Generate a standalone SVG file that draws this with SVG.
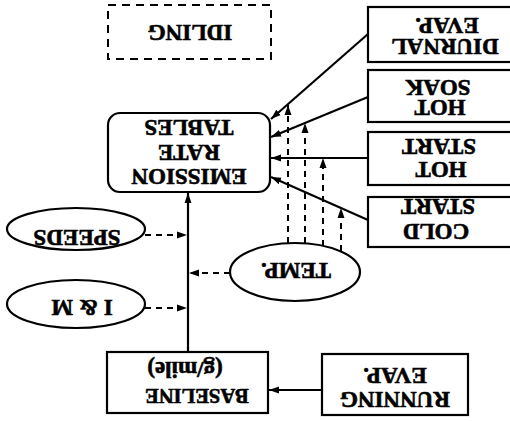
<svg xmlns="http://www.w3.org/2000/svg" width="510" height="421" viewBox="0 0 510 421">
<style>
.b{fill:#fff;stroke:#000;stroke-width:2.2}
.t{font-family:"Liberation Serif","Times New Roman",serif;font-weight:bold;font-size:23px;text-anchor:middle;fill:#000;stroke:#000;stroke-width:0.6}
.s{fill:none;stroke:#000;stroke-width:2.2}
.d{fill:none;stroke:#000;stroke-width:2;stroke-dasharray:6 5}
</style>
<defs>
<marker id="a" markerUnits="userSpaceOnUse" markerWidth="11" markerHeight="8" refX="10" refY="4" orient="auto">
<path d="M0,0.5 L10,4 L0,7.5 Z" fill="#000"/>
</marker>
</defs>
<rect width="510" height="421" fill="#fff"/>
<g id="idling">
<rect x="108" y="5" width="163" height="54" fill="none" stroke="#000" stroke-width="2" stroke-dasharray="8 6"/>
<text class="t" x="190" y="41" transform="rotate(180 190 33)">IDLING</text>
</g>
<g id="emission">
<rect class="b" x="108" y="113" width="162" height="79" rx="12"/>
<text class="t" x="189" y="185" transform="rotate(180 189 177)">EMISSION</text>
<text class="t" x="189" y="161" transform="rotate(180 189 153)">RATE</text>
<text class="t" x="189" y="136" transform="rotate(180 189 128)">TABLES</text>
</g>
<g id="diurnal">
<rect class="b" x="368" y="7" width="150" height="55"/>
<text class="t" x="445" y="55" transform="rotate(180 445 47)">DIURNAL</text>
<text class="t" x="447" y="34" transform="rotate(180 447 26)">EVAP.</text>
</g>
<g id="hotsoak">
<rect class="b" x="368" y="70" width="150" height="52"/>
<text class="t" x="440" y="116" transform="rotate(180 440 108)">HOT</text>
<text class="t" x="438" y="96" transform="rotate(180 438 88)">SOAK</text>
</g>
<g id="hotstart">
<rect class="b" x="368" y="132" width="150" height="53"/>
<text class="t" x="441" y="178" transform="rotate(180 441 170)">HOT</text>
<text class="t" x="439" y="155" transform="rotate(180 439 147)">START</text>
</g>
<g id="coldstart">
<rect class="b" x="368" y="197" width="150" height="50"/>
<text class="t" x="436" y="240" transform="rotate(180 436 232)">COLD</text>
<text class="t" x="438" y="215" transform="rotate(180 438 207)">START</text>
</g>
<g id="temp">
<ellipse class="b" cx="295" cy="272" rx="65" ry="29"/>
<text class="t" x="296" y="279" transform="rotate(180 296 271)">TEMP.</text>
</g>
<g id="speeds">
<ellipse class="b" cx="76" cy="229" rx="69" ry="21"/>
<text class="t" x="77" y="246" transform="rotate(180 77 238)">SPEEDS</text>
</g>
<g id="im">
<ellipse class="b" cx="76" cy="304" rx="69" ry="24"/>
<text class="t" x="82" y="316" transform="rotate(180 82 308)">I &amp; M</text>
</g>
<g id="baseline">
<rect class="b" x="107" y="352" width="161" height="61"/>
<text class="t" x="185" y="378" transform="rotate(180 185 370)">(g/mile)</text>
<text class="t" x="197" y="405" style="font-size:20.5px" transform="rotate(180 197 397)">BASELINE</text>
</g>
<g id="running">
<rect class="b" x="322" y="354" width="146" height="61"/>
<text class="t" x="395" y="384" transform="rotate(180 395 376)">EVAP.</text>
<text class="t" x="395" y="408" transform="rotate(180 395 400)">RUNNING</text>
</g>
<g id="connectors">
<line class="s" x1="368" y1="34" x2="271" y2="119" marker-end="url(#a)"/>
<line class="s" x1="368" y1="97" x2="271" y2="137" marker-end="url(#a)"/>
<line class="s" x1="368" y1="158" x2="271" y2="158" marker-end="url(#a)"/>
<line class="s" x1="368" y1="220" x2="271" y2="177" marker-end="url(#a)"/>
<line class="d" x1="288" y1="243" x2="288" y2="105" marker-end="url(#a)"/>
<line class="d" x1="305" y1="243" x2="305" y2="123" marker-end="url(#a)"/>
<line class="d" x1="323" y1="246" x2="323" y2="158" marker-end="url(#a)"/>
<line class="d" x1="341" y1="251" x2="341" y2="208" marker-end="url(#a)"/>
<line class="s" x1="188" y1="352" x2="188" y2="193" marker-end="url(#a)"/>
<line class="d" x1="230" y1="273" x2="189" y2="273" marker-end="url(#a)"/>
<line class="d" x1="145" y1="235" x2="187" y2="235" marker-end="url(#a)"/>
<line class="d" x1="145" y1="308" x2="187" y2="308" marker-end="url(#a)"/>
<line class="s" x1="322" y1="390" x2="269" y2="390" marker-end="url(#a)"/>
</g>
</svg>
